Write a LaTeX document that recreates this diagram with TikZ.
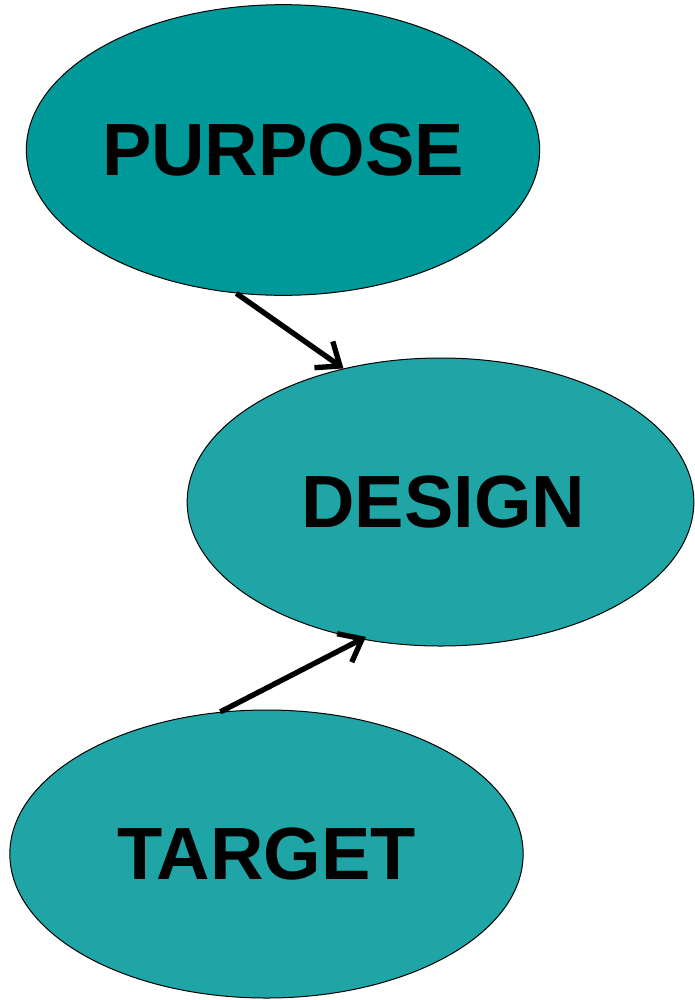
\documentclass[tikz,border=0pt]{standalone}
\usepackage{fontspec}
\setmainfont{Liberation Sans}
\usetikzlibrary{shapes.geometric,arrows.meta}
\definecolor{tealdark}{RGB}{0,153,153}
\definecolor{teallight}{RGB}{31,165,165}
\tikzset{every picture/.style={line width=0.75pt}}
\tikzset{
  blob/.style={ellipse, draw=black, line width=0.75pt, inner sep=0pt,
    minimum width=383pt, minimum height=216pt,
    font=\bfseries\fontsize{55.5}{66}\selectfont},
  flow/.style={line width=4pt, -{Straight Barb[length=15pt,width=24pt,line width=4pt]}}
}

\begin{document}
\begin{tikzpicture}[x=0.75pt,y=0.75pt,yscale=-1,xscale=1]
\useasboundingbox (0,0) rectangle (694,1000);

%Shape: Ellipse
\node [blob, fill=tealdark, minimum width=385pt, minimum height=218pt] (purpose) at (283,150) {PURPOSE};
%Shape: Ellipse
\node [blob, fill=teallight, minimum width=380pt] (design) at (440.5,502) {\hspace*{4pt}DESIGN};
%Shape: Ellipse
\node [blob, fill=teallight, minimum width=385pt] (target) at (266.5,854) {TARGET};

%Straight Lines
\draw [flow] (purpose.-108) -- (design.126);
%Straight Lines
\draw [flow, shorten >=-4pt] (target.108) -- (design.-120);

\end{tikzpicture}
\end{document}
